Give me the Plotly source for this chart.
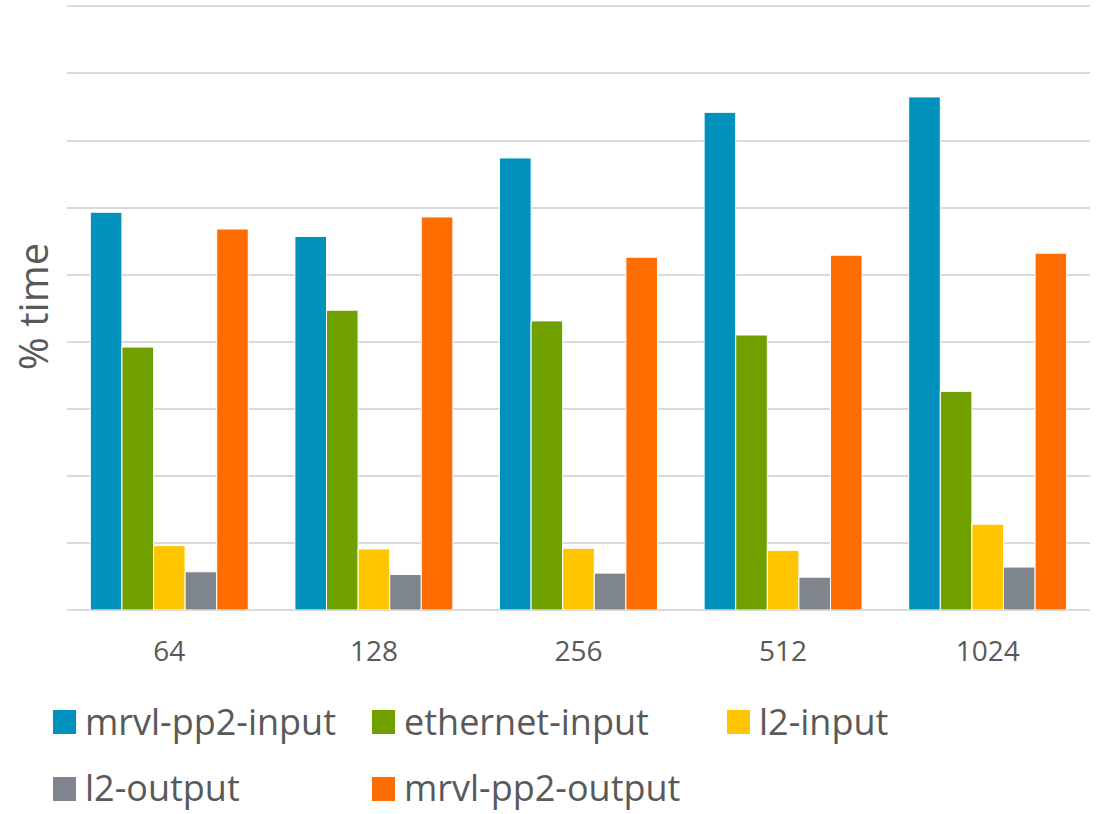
import plotly.graph_objects as go

categories = ["64", "128", "256", "512", "1024"]
series_names = ["mrvl-pp2-input", "ethernet-input", "l2-input", "l2-output", "mrvl-pp2-output"]
mrvl_pp2_input = [5.93, 5.57, 6.74, 7.42, 7.65]
ethernet_input = [3.92, 4.47, 4.31, 4.10, 3.26]
l2_input = [0.96, 0.91, 0.92, 0.89, 1.28]
l2_output = [0.57, 0.53, 0.55, 0.49, 0.64]
mrvl_pp2_output = [5.68, 5.86, 5.26, 5.29, 5.32]
colors = ["#0091BD", "#70A000", "#FFC600", "#7F858C", "#FF6D00"]

series_values = [mrvl_pp2_input, ethernet_input, l2_input, l2_output, mrvl_pp2_output]

FONT = "Open Sans"
TEXT_COLOR = "#595959"
W, H = 1101, 814
ML, MR, MT, MB = 67, 11, 3, 204
PW = W - ML - MR
PH = H - MT - MB

fig = go.Figure()
for name, vals, col in zip(series_names, series_values, colors):
    fig.add_trace(go.Bar(
        x=categories, y=vals, name=name,
        marker=dict(color=col, line=dict(color="white", width=1)),
        showlegend=False,
    ))

def px(x):
    return (x - ML) / PW

def py(y):
    return (H - MB - y) / PH

# legend layout (entry marker left x, row center y)
legend_pos = [(53, 722), (372, 722), (727, 722), (53, 789), (372, 789)]
shapes = []
annotations = []
for (mx, cy), name, col in zip(legend_pos, series_names, colors):
    shapes.append(dict(type="rect", xref="paper", yref="paper",
                       x0=px(mx), x1=px(mx + 23), y0=py(cy + 12), y1=py(cy - 12),
                       fillcolor=col, line=dict(width=0)))
    annotations.append(dict(xref="paper", yref="paper", x=px(mx + 30), y=py(cy - 1),
                            xanchor="left", yanchor="middle", text=name, showarrow=False,
                            font=dict(family=FONT, size=36, color=TEXT_COLOR)))

fig.update_layout(
    width=W, height=H,
    margin=dict(l=ML, r=MR, t=MT, b=MB, autoexpand=False),
    paper_bgcolor="white", plot_bgcolor="white",
    barmode="group", bargap=0.228, bargroupgap=0,
    font=dict(family=FONT, color=TEXT_COLOR),
    shapes=shapes, annotations=annotations,
    xaxis=dict(tickfont=dict(size=28, color=TEXT_COLOR), showgrid=False, automargin=False,
               showline=False, ticks="", ticklabelstandoff=22),
    yaxis=dict(range=[0, 9.05], tick0=0, dtick=1, showticklabels=False, showgrid=True,
               automargin=False,
               gridcolor="#D9D9D9", gridwidth=1.5, zeroline=True,
               zerolinecolor="#D9D9D9", zerolinewidth=2,
               title=dict(text="% time", font=dict(size=40, color=TEXT_COLOR), standoff=5)),
)

fig.write_html("out.html", config={"displayModeBar": False},
               post_script="document.body.style.margin='0';document.body.style.overflow='hidden';")
